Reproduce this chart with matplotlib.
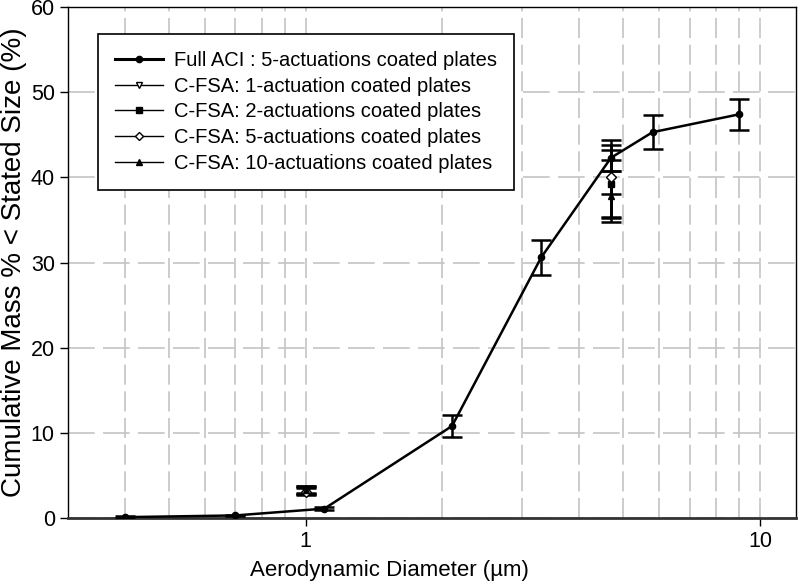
import numpy as np
import matplotlib
matplotlib.use("Agg")
import matplotlib.pyplot as plt
from matplotlib.lines import Line2D
from matplotlib.ticker import FixedLocator, NullFormatter

plt.rcParams["font.family"] = ["Liberation Sans", "DejaVu Sans"]

# Full ACI data
aci_d           = [0.4, 0.7, 1.1, 2.1, 3.3, 4.7, 5.8, 9.0]
aci_mass        = [0.1, 0.3, 1.1, 10.8, 30.6, 42.3, 45.3, 47.4]
aci_err         = [0.1, 0.1, 0.2, 1.3, 2.1, 1.5, 2.0, 1.8]

# C-FSA data (two cut points)
fsa_d           = [1.0, 4.7]
fsa_1_mass      = [3.2, 39.9]
fsa_1_err       = [0.4, 4.5]
fsa_2_mass      = [3.3, 39.2]
fsa_2_err       = [0.4, 4.0]
fsa_5_mass      = [3.1, 40.0]
fsa_5_err       = [0.4, 2.0]
fsa_10_mass     = [3.3, 37.8]
fsa_10_err      = [0.5, 3.0]

labels          = ["Full ACI : 5-actuations coated plates",
                   "C-FSA: 1-actuation coated plates",
                   "C-FSA: 2-actuations coated plates",
                   "C-FSA: 5-actuations coated plates",
                   "C-FSA: 10-actuations coated plates"]

fig = plt.figure(figsize = (7.99, 5.83), dpi = 100)
ax  = fig.add_axes([68/799, 1 - 518/583, (796-68)/799, (518-7)/583])

ax.errorbar(aci_d, aci_mass, aci_err, fmt = "o-", color = "black", linewidth = 1.8,
            markersize = 4.5, elinewidth = 1.8, capsize = 7, capthick = 1.8, zorder = 5)

fsa_sets = [(fsa_1_mass, fsa_1_err, "v", "white"),
            (fsa_2_mass, fsa_2_err, "s", "black"),
            (fsa_5_mass, fsa_5_err, "D", "white"),
            (fsa_10_mass, fsa_10_err, "^", "black")]
for mass, err, mk, fc in fsa_sets:
    ax.errorbar(fsa_d, mass, err, fmt = mk, linestyle = "none", color = "black",
                markerfacecolor = fc, markersize = 5, elinewidth = 1.8,
                capsize = 7, capthick = 1.8, zorder = 4)

ax.set_xscale("log")
ax.set_xlim(0.3, 12)
ax.set_ylim(0, 60)
ax.xaxis.set_major_locator(FixedLocator([1, 10]))
ax.set_xticklabels(["1", "10"])
minor = [0.4, 0.5, 0.6, 0.7, 0.8, 0.9, 2, 3, 4, 5, 6, 7, 8, 9]
ax.xaxis.set_minor_locator(FixedLocator(minor))
ax.xaxis.set_minor_formatter(NullFormatter())
ax.set_yticks(np.arange(0, 61, 10))
ax.tick_params(axis = "both", which = "major", direction = "out", length = 6,
               width = 1, labelsize = 15.5, colors = "black")
ax.tick_params(axis = "x", which = "minor", length = 0)

ax.grid(True, which = "both", axis = "x", color = "#c4c4c4", linestyle = (0, (12, 4)), linewidth = 1.2)
ax.grid(True, which = "major", axis = "y", color = "#c4c4c4", linestyle = (0, (16, 5)), linewidth = 1.2)
ax.set_axisbelow(True)

for side in ["top", "right", "left"]:
    ax.spines[side].set_linewidth(1.0)
ax.spines["bottom"].set_linewidth(2.0)
ax.spines["bottom"].set_color("#333333")

ax.set_xlabel("Aerodynamic Diameter (µm)", fontsize = 16)
ax.xaxis.set_label_coords(0.441, -0.082)
ax.set_ylabel("Cumulative Mass % < Stated Size (%)", fontsize = 20, labelpad = 3)

handles = [Line2D([], [], color = "black", linewidth = 2.2, marker = "o", markersize = 4.5),
           Line2D([], [], color = "black", linewidth = 1.0, marker = "v", markersize = 5, markerfacecolor = "white"),
           Line2D([], [], color = "black", linewidth = 1.0, marker = "s", markersize = 5),
           Line2D([], [], color = "black", linewidth = 1.0, marker = "D", markersize = 4.5, markerfacecolor = "white"),
           Line2D([], [], color = "black", linewidth = 1.0, marker = "^", markersize = 5)]
leg = ax.legend(handles, labels, loc = "upper left", bbox_to_anchor = (0.041, 0.947),
                fontsize = 14.5, frameon = True, fancybox = False, framealpha = 1,
                edgecolor = "black", handlelength = 2.4, handletextpad = 0.55,
                labelspacing = 0.33, borderpad = 0.85, borderaxespad = 0)
leg.get_frame().set_linewidth(1.2)

fig.savefig("out.png", dpi = 100)
